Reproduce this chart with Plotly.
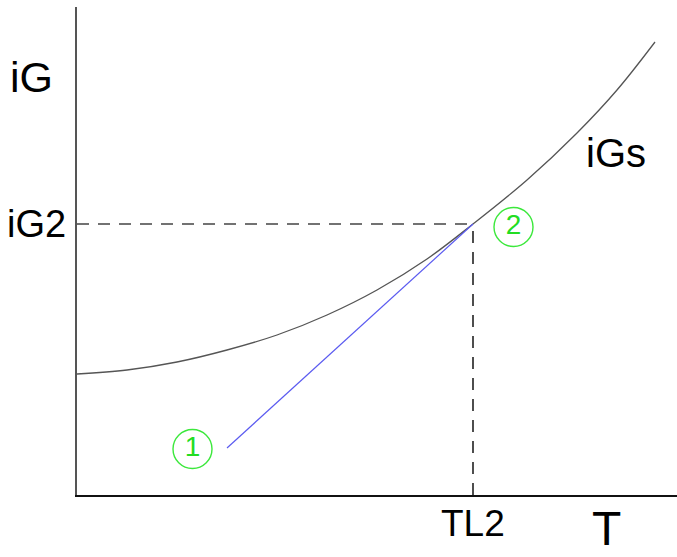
import plotly.graph_objects as go

# saturation curve iGs(T)
curve_T = [0, 50, 100, 150, 200, 250, 300, 350, 396, 450, 500, 540, 578]
curve_iG = [121, 125, 133, 145, 160, 180, 205, 236, 271, 315, 362, 405, 453]

# process path 1 -> 2
path_T = [150, 396]
path_iG = [47, 271]

# state point markers
state_T = [115.5, 436.5]
state_iG = [46, 268]
state_labels = ["1", "2"]

T_L2 = 396
iG_2 = 271

T_MAX = 600
IG_MAX = 488

FONT = "Liberation Sans, Arial, sans-serif"
GREEN = "#3ce83c"

fig = go.Figure()

# dashed guides to the axes
fig.add_trace(go.Scatter(x=[0, T_L2], y=[iG_2, iG_2], mode="lines",
                         line=dict(color="#444", width=1.6, dash="12px,9px"),
                         hoverinfo="skip"))
fig.add_trace(go.Scatter(x=[T_L2, T_L2], y=[0, iG_2], mode="lines",
                         line=dict(color="#222", width=1.6, dash="12px,9px"),
                         hoverinfo="skip"))

fig.add_trace(go.Scatter(x=curve_T, y=curve_iG, mode="lines",
                         line=dict(color="#555", width=1.3, shape="spline"),
                         hoverinfo="skip"))
fig.add_trace(go.Scatter(x=path_T, y=path_iG, mode="lines",
                         line=dict(color="#5a5af0", width=1.2),
                         hoverinfo="skip"))
fig.add_trace(go.Scatter(x=state_T, y=state_iG, mode="markers+text",
                         marker=dict(symbol="circle-open", size=39,
                                     line=dict(color=GREEN, width=1.4), color=GREEN),
                         text=state_labels, textposition="middle center",
                         textfont=dict(family=FONT, size=28, color="#22dd22"),
                         hoverinfo="skip"))

axis_common = dict(showgrid=False, zeroline=False, showticklabels=False,
                   ticks="", fixedrange=True)

fig.update_layout(
    width=677, height=557,
    margin=dict(l=77, r=0, t=7, b=62),
    plot_bgcolor="white", paper_bgcolor="white",
    showlegend=False,
    xaxis=dict(range=[0, T_MAX], showline=True, linecolor="#111", linewidth=1.6,
               **axis_common),
    yaxis=dict(range=[0, IG_MAX], showline=True, linecolor="#555", linewidth=2.2,
               **axis_common),
    annotations=[
        dict(x=0, y=418, xref="x", yref="y", text="iG", showarrow=False,
             xanchor="right", yanchor="middle", xshift=-22,
             font=dict(family=FONT, size=43, color="black")),
        dict(x=0, y=iG_2, xref="x", yref="y", text="iG2", showarrow=False,
             xanchor="right", yanchor="middle", xshift=-9,
             font=dict(family=FONT, size=38, color="black")),
        dict(x=T_L2, y=0, xref="x", yref="y", text="TL2", showarrow=False,
             yanchor="middle", yshift=-28,
             font=dict(family=FONT, size=37, color="black")),
        dict(x=529, y=0, xref="x", yref="y", text="T", showarrow=False,
             yanchor="bottom", yshift=-62,
             font=dict(family=FONT, size=48, color="black")),
        dict(x=539, y=342, xref="x", yref="y", text="iGs", showarrow=False,
             yanchor="middle",
             font=dict(family=FONT, size=40, color="black")),
    ],
)

fig.write_html("out.html")
